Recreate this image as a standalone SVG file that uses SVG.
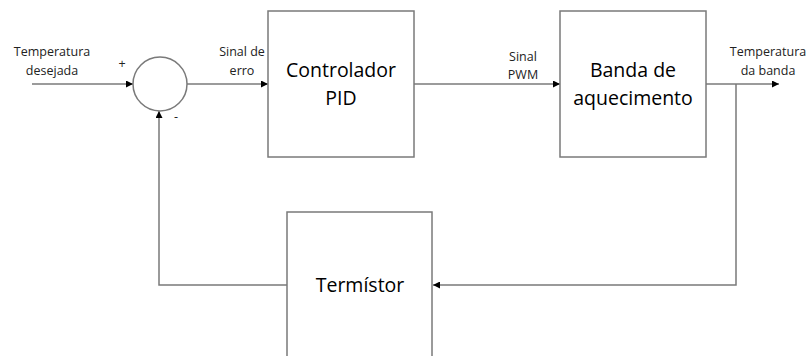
<svg xmlns="http://www.w3.org/2000/svg" width="808" height="356" viewBox="0 0 808 356">
<style>
.box{fill:#fff;stroke:#7a7a7a;stroke-width:1.5}
.ln{fill:none;stroke:#7a7a7a;stroke-width:1.5}
.big{font-family:"Open Sans","Liberation Sans",sans-serif;font-size:19.5px;fill:#000;text-anchor:middle}
.sm{font-family:"Open Sans","Liberation Sans",sans-serif;font-size:12.5px;fill:#222;text-anchor:middle}
</style>
<defs>
<marker id="ar" viewBox="0 0 10 10" refX="10" refY="5" markerWidth="7" markerHeight="7" markerUnits="userSpaceOnUse" orient="auto">
<path d="M0,0 L10,5 L0,10 z" fill="#000"/>
</marker>
</defs>
<rect width="808" height="356" fill="#fff"/>
<g id="connectors">
<line class="ln" x1="32" y1="84" x2="133" y2="84" marker-end="url(#ar)"/>
<line class="ln" x1="187" y1="84" x2="268" y2="84" marker-end="url(#ar)"/>
<line class="ln" x1="414" y1="84" x2="560" y2="84" marker-end="url(#ar)"/>
<line class="ln" x1="706" y1="84" x2="779" y2="84" marker-end="url(#ar)"/>
<polyline class="ln" points="736,84 736,285 433,285" marker-end="url(#ar)"/>
<polyline class="ln" points="287,285 159,285 159,111" marker-end="url(#ar)"/>
</g>
<g id="sum">
<circle cx="160" cy="84" r="27" class="box"/>
<text class="sm" x="122" y="68">+</text>
<text class="sm" x="176" y="121">-</text>
</g>
<g id="pid">
<rect class="box" x="268" y="11" width="146" height="146"/>
<text class="big" x="341" y="77">Controlador</text>
<text class="big" x="341" y="105">PID</text>
</g>
<g id="banda">
<rect class="box" x="560" y="11" width="146" height="146"/>
<text class="big" x="633" y="77">Banda de</text>
<text class="big" x="633" y="105">aquecimento</text>
</g>
<g id="termistor">
<rect class="box" x="287" y="212" width="145" height="160"/>
<text class="big" x="360" y="292">Termístor</text>
</g>
<g id="labels">
<text class="sm" x="52" y="56">Temperatura</text>
<text class="sm" x="52" y="75">desejada</text>
<text class="sm" x="242" y="56">Sinal de</text>
<text class="sm" x="242" y="75">erro</text>
<text class="sm" x="523" y="61">Sinal</text>
<text class="sm" x="523" y="79">PWM</text>
<text class="sm" x="768" y="56">Temperatura</text>
<text class="sm" x="768" y="75">da banda</text>
</g>
</svg>
